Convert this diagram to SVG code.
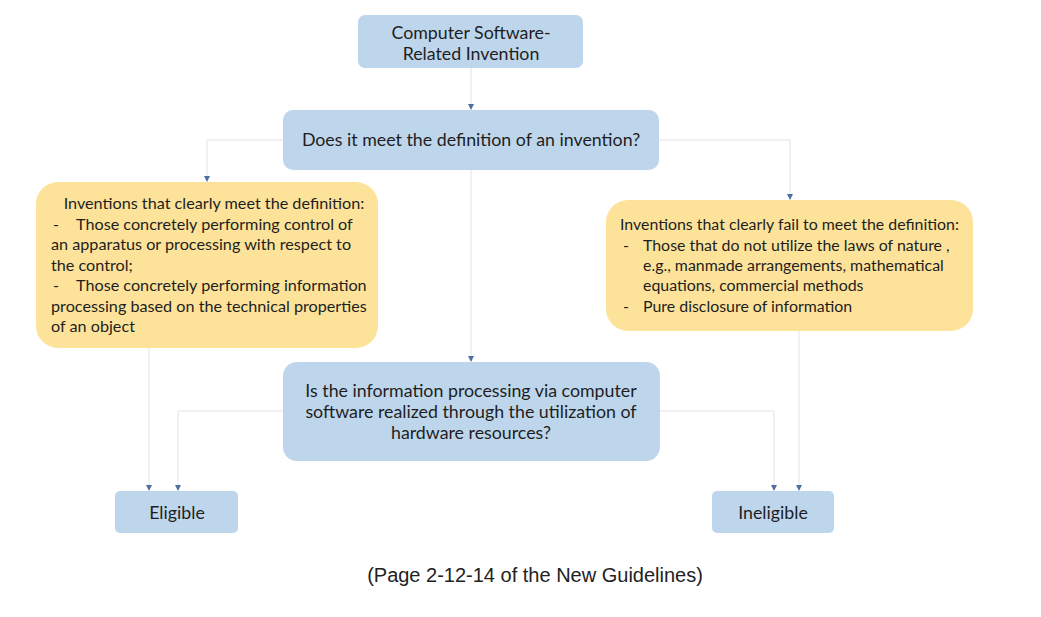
<svg xmlns="http://www.w3.org/2000/svg" width="1041" height="617" viewBox="0 0 1041 617">
<defs>
<marker id="arr" viewBox="0 0 6 6" refX="5" refY="3" markerWidth="6" markerHeight="6" orient="auto" markerUnits="userSpaceOnUse">
<path d="M0,0 L6,3 L0,6 Z" fill="#4f6fa3"/>
</marker>
<style>
.blue{fill:#bed6ec;}
.yel{fill:#fde39a;}
.t{font-family:Lato,"Liberation Sans",sans-serif;font-size:17.8px;fill:#1e1e1e;}
.y{font-size:15.9px;}
.yl{font-size:16.2px;}
.c{text-anchor:middle;}
.conn{fill:none;stroke:#dfe3ea;stroke-width:1;marker-end:url(#arr);}
.cap{font-family:"Liberation Sans",Arial,sans-serif;font-size:20px;fill:#222;text-anchor:middle;}
</style>
</defs>
<rect width="1041" height="617" fill="#ffffff"/>
<g id="connectors">
<path class="conn" d="M471,68 V109"/>
<path class="conn" d="M283,140 H207 V181"/>
<path class="conn" d="M659,140 H790 V199"/>
<path class="conn" d="M471,170 V361"/>
<path class="conn" d="M149,348 V490"/>
<path class="conn" d="M283,411 H178 V490"/>
<path class="conn" d="M660,411 H774 V490"/>
<path class="conn" d="M799,331 V490"/>
</g>
<g id="node-start">
<rect class="blue" x="358" y="15" width="225" height="53" rx="7"/>
<text class="t c" x="471" y="39">Computer Software-</text>
<text class="t c" x="471" y="60">Related Invention</text>
</g>
<g id="node-definition">
<rect class="blue" x="283" y="110" width="376" height="60" rx="10"/>
<text class="t c" x="471" y="146">Does it meet the definition of an invention?</text>
</g>
<g id="node-clearly-meet">
<rect class="yel" x="36" y="182" width="342" height="166" rx="22"/>
<text class="t yl c" x="214" y="209">Inventions that clearly meet the definition:</text>
<text class="t yl" x="53" y="230">-</text>
<text class="t yl" x="76" y="230">Those concretely performing control of</text>
<text class="t yl" x="51" y="250">an apparatus or processing with respect to</text>
<text class="t yl" x="51" y="271">the control;</text>
<text class="t yl" x="53" y="291">-</text>
<text class="t yl" x="76" y="291">Those concretely performing information</text>
<text class="t yl" x="51" y="312">processing based on the technical properties</text>
<text class="t yl" x="51" y="332">of an object</text>
</g>
<g id="node-clearly-fail">
<rect class="yel" x="606" y="200" width="367" height="131" rx="22"/>
<text class="t y" x="620" y="230">Inventions that clearly fail to meet the definition:</text>
<text class="t y" x="623" y="251">-</text>
<text class="t y" x="643" y="251">Those that do not utilize the laws of nature ,</text>
<text class="t y" x="643" y="271">e.g., manmade arrangements, mathematical</text>
<text class="t y" x="643" y="291">equations, commercial methods</text>
<text class="t y" x="623" y="312">-</text>
<text class="t y" x="643" y="312">Pure disclosure of information</text>
</g>
<g id="node-hardware">
<rect class="blue" x="283" y="362" width="377" height="99" rx="14"/>
<text class="t c" x="471" y="397">Is the information processing via computer</text>
<text class="t c" x="471" y="418">software realized through the utilization of</text>
<text class="t c" x="471" y="439">hardware resources?</text>
</g>
<g id="node-eligible">
<rect class="blue" x="115" y="491" width="123" height="42" rx="5"/>
<text class="t c" x="177" y="519">Eligible</text>
</g>
<g id="node-ineligible">
<rect class="blue" x="712" y="491" width="122" height="42" rx="5"/>
<text class="t c" x="773" y="519">Ineligible</text>
</g>
<text class="cap" x="535" y="582">(Page 2-12-14 of the New Guidelines)</text>
</svg>
